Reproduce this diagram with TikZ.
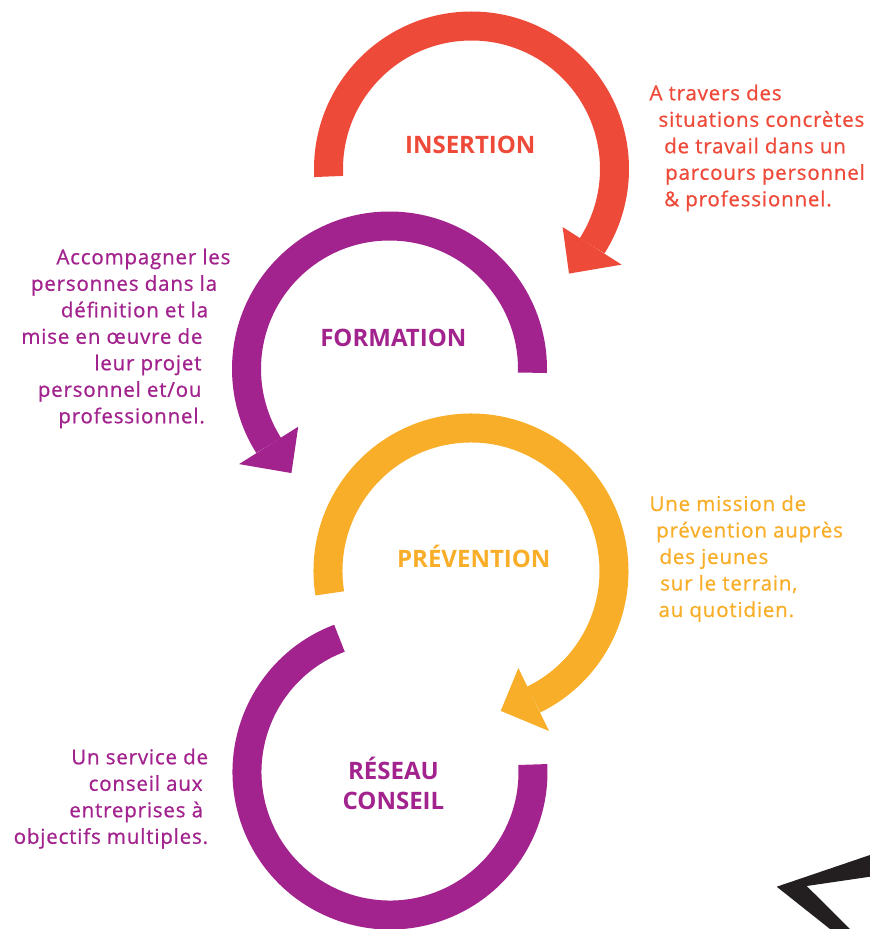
\documentclass[tikz,border=0pt]{standalone}
\usepackage{fontspec}
\setmainfont{Open Sans}
\newfontfamily\notefont{Open Sans}[LetterSpace=4, FakeBold=0.8]
\usepackage{tikz}
\usetikzlibrary{calc}
\definecolor{ringred}{HTML}{EE4A39}
\definecolor{ringpurple}{HTML}{A2238D}
\definecolor{ringorange}{HTML}{F8AE29}
\definecolor{frameblack}{HTML}{231F20}
\tikzstyle{ring.arc} = [line width=29pt]
\tikzstyle{ring.title} = [font=\bfseries\fontsize{24}{30}\selectfont, inner sep=0pt, align=center]
\tikzstyle{ring.note} = [font=\notefont\fontsize{20.5}{26.5}\selectfont, inner sep=0pt]

\begin{document}
\begin{tikzpicture}[x=1pt, y=1pt]
\useasboundingbox (0,0) rectangle (870,-929);

% centres
\coordinate (insertion) at (471.5,-169);
\coordinate (formation) at (389.5,-369);
\coordinate (prevention) at (471,-571);
\coordinate (reseau) at (390,-772);

% anneaux
\draw[ring.arc, ringred] ($(insertion)+(183:143)$) arc[start angle=183, end angle=-32.5, radius=143];
\fill[ringred] ($(insertion)+(-32.5:108)$) -- ($(insertion)+(-32.5:178)$) -- ($(insertion)+(-47:143)$) -- cycle;

\draw[ring.arc, ringpurple] ($(formation)+(-1.5:143)$) arc[start angle=-1.5, end angle=212.3, radius=143];
\fill[ringpurple] ($(formation)+(212.3:108)$) -- ($(formation)+(212.3:178)$) -- ($(formation)+(226.7:143)$) -- cycle;

\draw[ring.arc, ringorange] ($(prevention)+(189:143)$) arc[start angle=189, end angle=-64, radius=143];
\fill[ringorange] ($(prevention)+(-64:108)$) -- ($(prevention)+(-64:178)$) -- ($(prevention)+(-78:143)$) -- cycle;

\draw[ring.arc, ringpurple] ($(reseau)+(110.7:143)$) arc[start angle=110.7, end angle=363, radius=143];

% titres
\node[ring.title, ringred, anchor=base] (insertion_title) at (470.3,-153.3) {INSERTION};
\node[ring.title, ringpurple, anchor=base] (formation_title) at (393.3,-346.7) {FORMATION};
\node[ring.title, ringorange, anchor=base] (prevention_title) at (473.8,-567.3) {PRÉVENTION};
\node[ring.title, ringpurple] (reseau_title) at (393.4,-783) {RÉSEAU\\CONSEIL};

% textes
\node[ring.note, ringred, anchor=north west, align=left] (insertion_text) at (649.3,-84.5)
  {A travers des\\ \hspace*{9pt}situations concrètes\\ \hspace*{14.7pt}de travail dans un\\ \hspace*{15.7pt}parcours personnel\\ \hspace*{14.7pt}\& professionnel.};
\node[ring.note, ringpurple, anchor=north east, align=right] (formation_text) at (230.7,-248.5)
  {Accompagner les\\ personnes dans la\hspace*{13.4pt}\null\\ définition et la\hspace*{22.4pt}\null\\ mise en œuvre de\hspace*{28pt}\null\\ leur projet\hspace*{29pt}\null\\ personnel et/ou\hspace*{29pt}\null\\ professionnel.\hspace*{25.7pt}\null};
\node[ring.note, ringorange, anchor=north west, align=left] (prevention_text) at (649.3,-495.2)
  {Une mission de\\ \hspace*{6.7pt}prévention auprès\\ \hspace*{10pt}des jeunes\\ \hspace*{10.7pt}sur le terrain,\\ \hspace*{9pt}au quotidien.};
\node[ring.note, ringpurple, anchor=north east, align=right] (reseau_text) at (208.3,-748.5)
  {Un service de\\ conseil aux\hspace*{5.6pt}\null\\ entreprises à\hspace*{5pt}\null\\ objectifs multiples.};

% coin noir
\fill[frameblack] (776.7,-886.7) -- (870,-855) -- (870,-876.7) -- (806.7,-886) -- (850,-929) -- (830,-929) -- cycle;
\end{tikzpicture}
\end{document}
